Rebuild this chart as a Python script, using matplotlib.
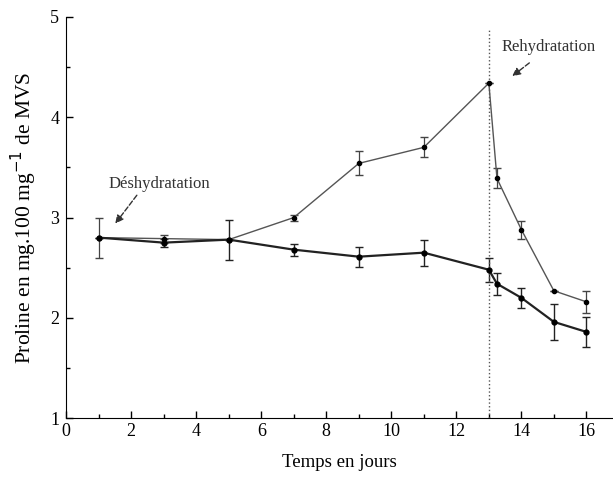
import numpy as np
from matplotlib import pyplot as plt
from matplotlib.ticker import MultipleLocator

plt.rcParams['font.family'] = ['Liberation Serif', 'DejaVu Serif']

# days of measurement
jours = [1, 3, 5, 7, 9, 11, 13, 13.25, 14, 15, 16]

# upper curve (rises during dehydration, falls after rehydration)
proline_haut = [2.80, 2.79, 2.78, 3.00, 3.54, 3.70, 4.34, 3.39, 2.88, 2.27, 2.16]
err_haut = [0.20, 0.04, 0.00, 0.03, 0.12, 0.10, 0.00, 0.10, 0.09, 0.00, 0.11]

# lower curve
proline_bas = [2.80, 2.75, 2.78, 2.68, 2.61, 2.65, 2.48, 2.34, 2.20, 1.96, 1.86]
err_bas = [0.00, 0.04, 0.20, 0.06, 0.10, 0.13, 0.12, 0.11, 0.10, 0.18, 0.15]

fig = plt.figure(figsize=(6.13, 4.84), dpi=100)
ax = fig.add_axes([0.108, 0.136, 0.891, 0.829])

ax.errorbar(jours, proline_haut, yerr=err_haut, color='#555555', lw=1.0,
            marker='o', ms=3, mfc='black', mec='black', ecolor='#444444',
            elinewidth=0.9, capsize=3)
ax.errorbar(jours, proline_bas, yerr=err_bas, color='#222222', lw=1.6,
            marker='o', ms=3.5, mfc='black', mec='black', ecolor='#222222',
            elinewidth=1.0, capsize=3)

# rehydration marker
ax.axvline(13, color='#555555', ls=':', lw=1.0, ymax=0.97)

ax.annotate('Déshydratation', xy=(1.51, 2.94), xytext=(1.3, 3.33),
            fontsize=12, color='#333333', va='center',
            arrowprops=dict(arrowstyle='-|>', ls='--', color='#333333', lw=1,
                            shrinkA=0, shrinkB=0, relpos=(0.3, 0.0)))
ax.annotate('Rehydratation', xy=(13.72, 4.41), xytext=(13.4, 4.70),
            fontsize=12, color='#333333', va='center',
            arrowprops=dict(arrowstyle='-|>', ls='--', color='#333333', lw=1,
                            shrinkA=6, shrinkB=0, relpos=(0.4, 0.0)))

ax.set_xlim(0, 16.8)
ax.set_ylim(1, 5)
ax.xaxis.set_major_locator(MultipleLocator(2))
ax.xaxis.set_minor_locator(MultipleLocator(1))
ax.yaxis.set_major_locator(MultipleLocator(1))
ax.yaxis.set_minor_locator(MultipleLocator(0.5))
ax.tick_params(which='both', direction='in', labelsize=13, width=1)
ax.tick_params(which='major', length=5)
ax.tick_params(which='minor', length=3)
ax.tick_params(axis='y', pad=5)
ax.spines['top'].set_visible(False)
ax.spines['right'].set_visible(False)

ax.set_xlabel('Temps en jours', fontsize=13.5, labelpad=10)
ax.set_ylabel('Proline en mg.100 mg$^{-1}$ de MVS', fontsize=15.5, labelpad=8)

plt.savefig('out.png', dpi=100)
